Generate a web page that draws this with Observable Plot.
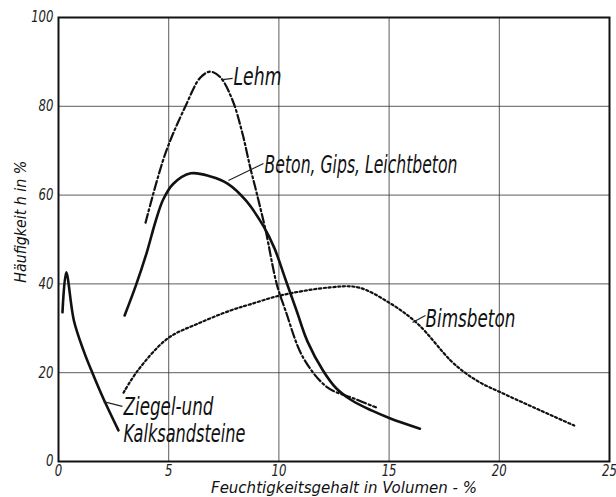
<!DOCTYPE html>
<html>
<head>
<meta charset="utf-8">
<script src="https://cdn.jsdelivr.net/npm/d3@7"></script>
<script src="https://cdn.jsdelivr.net/npm/@observablehq/plot@0.6"></script>
<style>
  body { margin: 0; background: #fff; }
  #chart svg { font-family: "DejaVu Sans", sans-serif; font-style: italic; }
</style>
</head>
<body>
<div id="chart"></div>
<script>
// Ziegel- und Kalksandsteine
const ziegelX = [0.18, 0.35, 0.7, 1.15, 1.55, 2.05, 2.72];
const ziegelY = [33.6, 42.6, 31.7, 24.8, 19.8, 14.0, 7.0];
// Beton, Gips, Leichtbeton
const betonX = [3.0, 3.5, 4.0, 4.4, 4.75, 5.2, 6.0, 6.9, 7.67, 8.5, 9.3, 9.8, 10.3, 10.8, 11.3, 12.0, 12.6, 13.3, 14.2, 15.06, 16.4];
const betonY = [32.9, 39.5, 47.0, 54.0, 59.0, 62.5, 64.9, 64.2, 62.6, 58.8, 53.0, 48.0, 41.0, 34.0, 27.0, 20.5, 16.5, 13.8, 11.5, 9.7, 7.4];
// Lehm
const lehmX = [3.95, 4.85, 5.76, 6.44, 6.9, 7.35, 7.9, 8.35, 8.7, 9.0, 9.4, 9.9, 10.3, 11.1, 12.2, 13.4, 14.4];
const lehmY = [53.8, 69.4, 80.0, 86.5, 87.8, 86.5, 81.3, 73.8, 66.2, 60.3, 52.0, 40.0, 34.0, 23.4, 16.7, 14.2, 12.2];
// Bimsbeton
const bimsX = [2.95, 3.6, 4.95, 6.3, 7.8, 8.7, 10.07, 12.3, 13.6, 15.06, 16.3, 17.8, 18.5, 19.2, 20.05, 21.55, 23.4];
const bimsY = [15.5, 20.5, 27.7, 31.0, 34.0, 35.4, 37.4, 39.2, 39.2, 35.6, 31.0, 22.7, 19.8, 17.6, 15.6, 12.2, 8.1];

const xTicks = [0, 5, 10, 15, 20, 25];
const yTicks = [0, 20, 40, 60, 80, 100];
const xGrid = [5, 10, 15, 20];
const yGrid = [20, 40, 60, 80];

const labelText = ["Lehm", "Beton, Gips, Leichtbeton", "Bimsbeton", "Ziegel-und", "Kalksandsteine"];
const labelX = [7.94, 9.35, 16.65, 2.95, 2.95];
const labelY = [84.9, 64.9, 30.4, 10.4, 4.3];
const labelWidth = [48, 193, 90, 90, 122];

// leader lines: from a curve point to its label
const leaderX1 = [7.45, 7.71, 16.06, 2.04];
const leaderY1 = [86.0, 63.3, 31.3, 13.5];
const leaderX2 = [7.9, 9.3, 16.65, 2.9];
const leaderY2 = [86.3, 67.1, 32.9, 12.4];

const xLabel = "Feuchtigkeitsgehalt in Volumen - %";
const yLabel = "Häufigkeit h in %";

const zip = (xs, ys) => xs.map((x, i) => ({x, y: ys[i]}));
const labels = labelText.map((t, i) => ({t, x: labelX[i], y: labelY[i]}));
const leaders = leaderX1.map((x1, i) => ({x1, y1: leaderY1[i], x2: leaderX2[i], y2: leaderY2[i]}));

const chart = Plot.plot({
  width: 616,
  height: 497,
  marginLeft: 58,
  marginRight: 7,
  marginTop: 17,
  marginBottom: 36,
  x: {domain: [0, 25]},
  y: {domain: [0, 100]},
  marks: [
    Plot.ruleX(xGrid, {stroke: "#333", strokeWidth: 1, strokeOpacity: 0.8}),
    Plot.ruleY(yGrid, {stroke: "#333", strokeWidth: 1, strokeOpacity: 0.8}),
    Plot.frame({stroke: "#111", strokeWidth: 2}),
    Plot.axisX({ticks: xTicks, tickSize: 0, tickPadding: 4, fontSize: 15, label: null, fill: "#222"}),
    Plot.axisY({ticks: yTicks, tickSize: 0, tickPadding: 5, fontSize: 15, label: null, fill: "#222"}),
    Plot.line(zip(ziegelX, ziegelY), {x: "x", y: "y", curve: "catmull-rom", stroke: "#111", strokeWidth: 2.6}),
    Plot.line(zip(betonX, betonY), {x: "x", y: "y", curve: "catmull-rom", stroke: "#111", strokeWidth: 2.6}),
    Plot.line(zip(lehmX, lehmY), {x: "x", y: "y", curve: "catmull-rom", stroke: "#111", strokeWidth: 2.2, strokeDasharray: "9,3,2,3"}),
    Plot.line(zip(bimsX, bimsY), {x: "x", y: "y", curve: "catmull-rom", stroke: "#111", strokeWidth: 2.2, strokeDasharray: "2.2,2.6"}),
    Plot.link(leaders, {x1: "x1", y1: "y1", x2: "x2", y2: "y2", stroke: "#222", strokeWidth: 1.2}),
    Plot.text(labels, {x: "x", y: "y", text: "t", textAnchor: "start", lineAnchor: "bottom", fontSize: 24, fill: "#111"}),
    Plot.text([xLabel], {frameAnchor: "bottom", textAnchor: "middle", dy: 31, dx: 10, fontSize: 15, fill: "#111", lineAnchor: "bottom"}),
    Plot.text([yLabel], {frameAnchor: "left", textAnchor: "middle", y: [54], dx: -38, rotate: -90, fontSize: 16, fill: "#111"})
  ]
});
document.getElementById("chart").appendChild(chart);

// condense the lettering horizontally (narrow hand lettering of the original);
// text elements are positioned by their transform, so a trailing scale keeps the anchor
const svg = d3.select(chart);
function condense(sel, target) {
  sel.each(function (d, i) {
    const natural = this.getComputedTextLength();
    if (!natural) return;
    const k = (typeof target === "function" ? target(natural, i) : target) / natural;
    if (!isFinite(k)) return;
    const t = this.getAttribute("transform") || "";
    this.setAttribute("transform", `${t} scale(${k},1)`);
  });
}
const textGroups = svg.selectAll('g[aria-label="text"]').nodes();
condense(d3.select(textGroups[0]).selectAll("text"), (n, i) => labelWidth[i]);
condense(d3.select(textGroups[1]).selectAll("text"), 266);
condense(d3.select(textGroups[2]).selectAll("text"), 122);
condense(svg.selectAll('g[aria-label="x-axis tick label"] text, g[aria-label="y-axis tick label"] text'), (n) => n * 0.78);
</script>
</body>
</html>
